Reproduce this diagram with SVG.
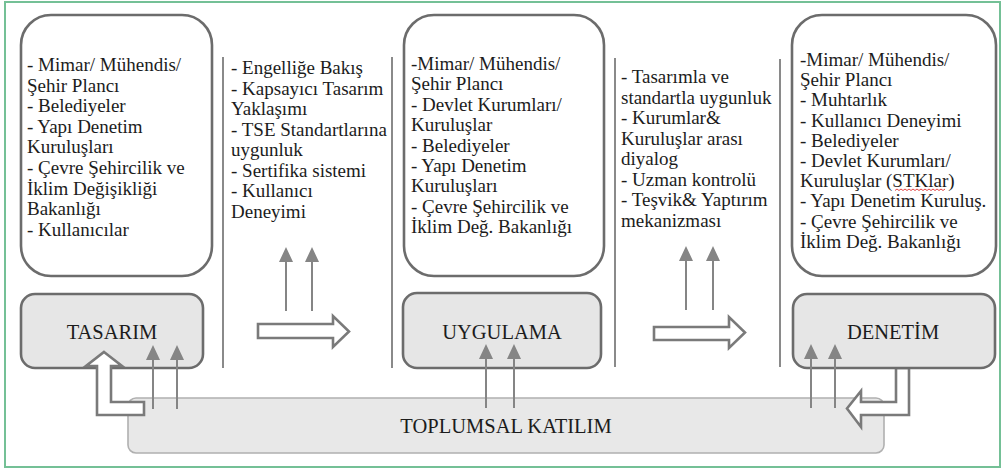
<svg xmlns="http://www.w3.org/2000/svg" width="1002" height="469" viewBox="0 0 1002 469">
<defs>
<style>
.frame{fill:#ffffff;stroke:#74c096;stroke-width:2}
.box{fill:#ffffff;stroke:#6c6c6c;stroke-width:2.6}
.stage{fill:#e6e6e6;stroke:#6c6c6c;stroke-width:2.6}
.bar{fill:#e8e8e8;stroke:#b0b0b0;stroke-width:1.6}
.sep{stroke:#8a8a8a;stroke-width:2;fill:none}
.t{font-family:"Liberation Serif","Times New Roman",serif;font-size:19px;fill:#1c1c1c}
.lbl{font-family:"Liberation Serif","Times New Roman",serif;font-size:20.5px;fill:#1c1c1c;text-anchor:middle}
.arr{stroke:#858585;stroke-width:2;fill:none;marker-end:url(#head)}
.blk{fill:#ffffff;stroke:#7a7a7a;stroke-width:2.6;stroke-linejoin:miter}
</style>
<marker id="head" markerUnits="userSpaceOnUse" viewBox="0 0 15 14" markerWidth="15" markerHeight="14" refX="0" refY="7" orient="auto">
<path d="M0,0 L15,7 L0,14 z" fill="#858585"/>
</marker>
</defs>
<rect class="frame" x="5" y="2" width="995" height="465"/>

<g id="design-actors">
<rect class="box" x="21" y="15" width="191" height="261" rx="30"/>
<text class="t">
<tspan x="27" y="71">- Mimar/ Mühendis/</tspan>
<tspan x="27" y="91.6">Şehir Plancı</tspan>
<tspan x="27" y="112.2">- Belediyeler</tspan>
<tspan x="27" y="132.8">- Yapı Denetim</tspan>
<tspan x="27" y="153.4">Kuruluşları</tspan>
<tspan x="27" y="174">- Çevre Şehircilik ve</tspan>
<tspan x="27" y="194.6">İklim Değişikliği</tspan>
<tspan x="27" y="215.2">Bakanlığı</tspan>
<tspan x="27" y="235.8">- Kullanıcılar</tspan>
</text>
</g>

<g id="design-criteria">
<line class="sep" x1="223" y1="57" x2="223" y2="368"/>
<line class="sep" x1="392" y1="57" x2="392" y2="368"/>
<text class="t">
<tspan x="231" y="74">- Engelliğe Bakış</tspan>
<tspan x="231" y="94.5">- Kapsayıcı Tasarım</tspan>
<tspan x="231" y="115">Yaklaşımı</tspan>
<tspan x="231" y="135.5">- TSE Standartlarına</tspan>
<tspan x="231" y="156">uygunluk</tspan>
<tspan x="231" y="176.5">- Sertifika sistemi</tspan>
<tspan x="231" y="197">- Kullanıcı</tspan>
<tspan x="231" y="217.5">Deneyimi</tspan>
</text>
</g>

<g id="implementation-actors">
<rect class="box" x="404" y="15" width="200" height="261" rx="30"/>
<text class="t">
<tspan x="411" y="70">-Mimar/ Mühendis/</tspan>
<tspan x="411" y="90.4">Şehir Plancı</tspan>
<tspan x="411" y="110.8">- Devlet Kurumları/</tspan>
<tspan x="411" y="131.2">Kuruluşlar</tspan>
<tspan x="411" y="151.6">- Belediyeler</tspan>
<tspan x="411" y="172">- Yapı Denetim</tspan>
<tspan x="411" y="192.4">Kuruluşları</tspan>
<tspan x="411" y="212.8">- Çevre Şehircilik ve</tspan>
<tspan x="411" y="233.2">İklim Değ. Bakanlığı</tspan>
</text>
</g>

<g id="implementation-criteria">
<line class="sep" x1="615" y1="58" x2="615" y2="367"/>
<line class="sep" x1="780" y1="59" x2="780" y2="367"/>
<text class="t">
<tspan x="621" y="83">- Tasarımla ve</tspan>
<tspan x="621" y="103.5">standartla uygunluk</tspan>
<tspan x="621" y="124">- Kurumlar&amp;</tspan>
<tspan x="621" y="144.5">Kuruluşlar arası</tspan>
<tspan x="621" y="165">diyalog</tspan>
<tspan x="621" y="185.5">- Uzman kontrolü</tspan>
<tspan x="621" y="206">- Teşvik&amp; Yaptırım</tspan>
<tspan x="621" y="226.5">mekanizması</tspan>
</text>
</g>

<g id="inspection-actors">
<rect class="box" x="792" y="15" width="204" height="261" rx="30"/>
<text class="t">
<tspan x="800" y="66">-Mimar/ Mühendis/</tspan>
<tspan x="800" y="86.2">Şehir Plancı</tspan>
<tspan x="800" y="106.4">- Muhtarlık</tspan>
<tspan x="800" y="126.6">- Kullanıcı Deneyimi</tspan>
<tspan x="800" y="146.8">- Belediyeler</tspan>
<tspan x="800" y="167">- Devlet Kurumları/</tspan>
<tspan x="800" y="187.2">Kuruluşlar (STKlar)</tspan>
<tspan x="800" y="207.4">- Yapı Denetim Kuruluş.</tspan>
<tspan x="800" y="227.6">- Çevre Şehircilik ve</tspan>
<tspan x="800" y="247.8">İklim Değ. Bakanlığı</tspan>
</text>
<path d="M895,190.5 l2,-1.5 l2,1.5 l2,-1.5 l2,1.5 l2,-1.5 l2,1.5 l2,-1.5 l2,1.5 l2,-1.5 l2,1.5 l2,-1.5 l2,1.5 l2,-1.5 l2,1.5 l2,-1.5 l2,1.5 l2,-1.5 l2,1.5 l2,-1.5 l2,1.5 l2,-1.5 l2,1.5 l2,-1.5 l2,1.5 l2,-1.5" fill="none" stroke="#e03030" stroke-width="0.9"/>
</g>

<g id="social-participation">
<rect class="bar" x="128" y="398" width="756" height="55" rx="8"/>
<text class="lbl" x="506" y="433">TOPLUMSAL KATILIM</text>
</g>

<g id="design">
<rect class="stage" x="21" y="294" width="182" height="74" rx="14"/>
<text class="lbl" x="112" y="339">TASARIM</text>
</g>

<g id="implementation">
<rect class="stage" x="403" y="293" width="198" height="75" rx="14"/>
<text class="lbl" x="502" y="339">UYGULAMA</text>
</g>

<g id="inspection">
<polygon class="blk" points="896,368 896,402 861,402 861,391 847,408.5 861,427 861,415 909,415 909,368"/>
<rect class="stage" x="793" y="294" width="202" height="74" rx="14"/>
<text class="lbl" x="893" y="339">DENETİM</text>
</g>

<g id="connectors">
<line class="arr" x1="286" y1="311" x2="286" y2="262"/>
<line class="arr" x1="312" y1="311" x2="312" y2="262"/>
<line class="arr" x1="686" y1="310" x2="686" y2="261"/>
<line class="arr" x1="713" y1="310" x2="713" y2="261"/>
<polygon class="blk" points="258,324 333,324 333,316 349,331.5 333,347 333,338 258,338"/>
<polygon class="blk" points="654,327 729,327 729,317 745,332.5 729,348 729,340 654,340"/>
<line class="arr" x1="153" y1="409" x2="153" y2="360"/>
<line class="arr" x1="177" y1="409" x2="177" y2="360"/>
<line class="arr" x1="486" y1="408" x2="486" y2="359"/>
<line class="arr" x1="514" y1="408" x2="514" y2="359"/>
<line class="arr" x1="811" y1="408" x2="811" y2="359"/>
<line class="arr" x1="835" y1="408" x2="835" y2="359"/>
<polygon class="blk" points="104,352 122,366 111,366 111,402 144,402 144,415 97,415 97,366 86,366"/>
</g>
</svg>
